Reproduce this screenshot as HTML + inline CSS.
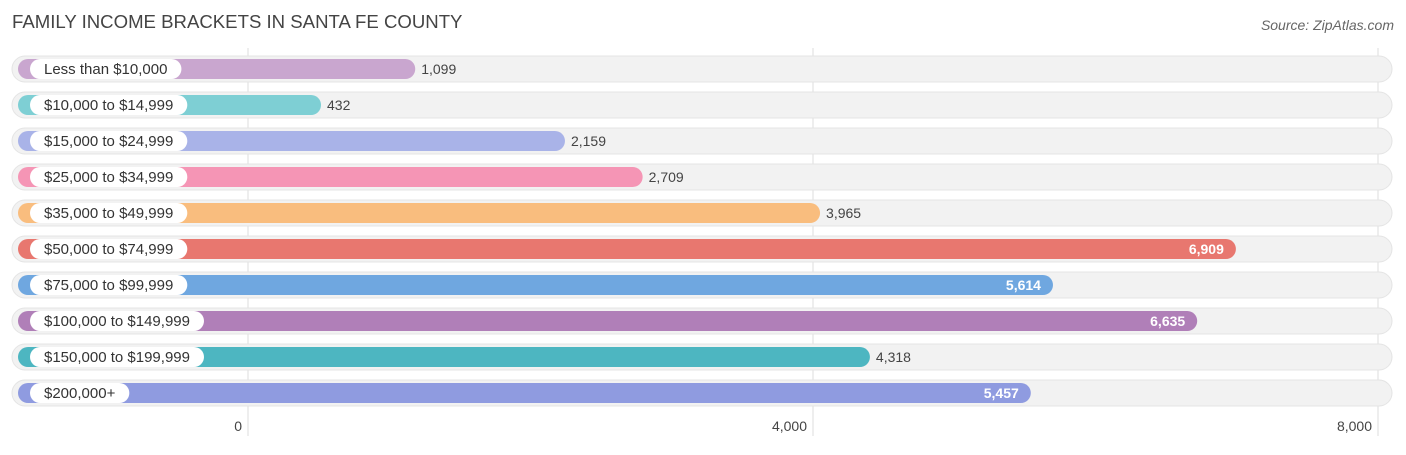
<!DOCTYPE html>
<html><head><meta charset="utf-8"><style>
body{margin:0;background:#fff;font-family:"Liberation Sans",sans-serif;}
svg text{font-family:"Liberation Sans",sans-serif;}
</style></head><body>
<svg id="chart" width="1406" height="450">
<text x="12" y="28" font-size="18.6" fill="#444">FAMILY INCOME BRACKETS IN SANTA FE COUNTY</text>
<text x="1394" y="30" font-size="14" fill="#666" font-style="italic" text-anchor="end">Source: ZipAtlas.com</text>
<g id="grid"></g><g id="rows"></g><g id="ticks"></g>
</svg>
<script>
const categories=["Less than $10,000","$10,000 to $14,999","$15,000 to $24,999","$25,000 to $34,999","$35,000 to $49,999","$50,000 to $74,999","$75,000 to $99,999","$100,000 to $149,999","$150,000 to $199,999","$200,000+"];
const values=[1099,432,2159,2709,3965,6909,5614,6635,4318,5457];
const valueLabels=["1,099","432","2,159","2,709","3,965","6,909","5,614","6,635","4,318","5,457"];
const colors=["#c9a6cf","#7ecfd4","#a9b3e8","#f595b5","#f9bd7e","#e8776f","#6fa7e0","#b07fb8","#4db6c1","#8f9be0"];
const tickValues=[0,4000,8000];
const tickLabels=["0","4,000","8,000"];
const NS="http://www.w3.org/2000/svg";
const x=v=>248+v*565/4000;
const y=i=>69+i*36;
function mk(tag,attrs,parent){const e=document.createElementNS(NS,tag);for(const k in attrs)e.setAttribute(k,attrs[k]);parent.appendChild(e);return e;}
const grid=document.getElementById('grid'),rows=document.getElementById('rows'),ticks=document.getElementById('ticks');
tickValues.forEach((t,i)=>{
 const l=mk('line',{x1:x(t),x2:x(t),y1:48,y2:436,stroke:'#ddd','stroke-width':1},grid);
 
 
 const tx=mk('text',{x:x(t)-6,y:431,'font-size':14,fill:'#444','text-anchor':'end'},ticks);
 tx.textContent=tickLabels[i];
 
 
});
categories.forEach((c,i)=>{
 const cy=y(i);
 const bg=mk('rect',{x:12,y:cy-13,width:1380,height:26,rx:13,fill:'#f2f2f2',stroke:'#e4e4e4'},rows);
 
 
 const end=x(values[i])+12;
 const b=mk('rect',{x:18,y:cy-10,width:end-18,height:20,rx:10,fill:colors[i]},rows);
 
 
 const p=mk('rect',{x:30,y:cy-10,width:100,height:20,rx:10,fill:'#fff'},rows);
 
 
 const t=mk('text',{x:44,y:cy+5,'font-size':15,fill:'#333'},rows);
 t.textContent=c;
 
 
 p.setAttribute('width',t.getComputedTextLength()+28);
 const inside=values[i]>=5000;
 const v=mk('text',{x:inside?end-12:end+6,y:cy+5,'font-size':14,fill:inside?'#fff':'#444','text-anchor':inside?'end':'start','font-weight':inside?'bold':'normal'},rows);
 v.textContent=valueLabels[i];
 
 
});
</script>
</body></html>
